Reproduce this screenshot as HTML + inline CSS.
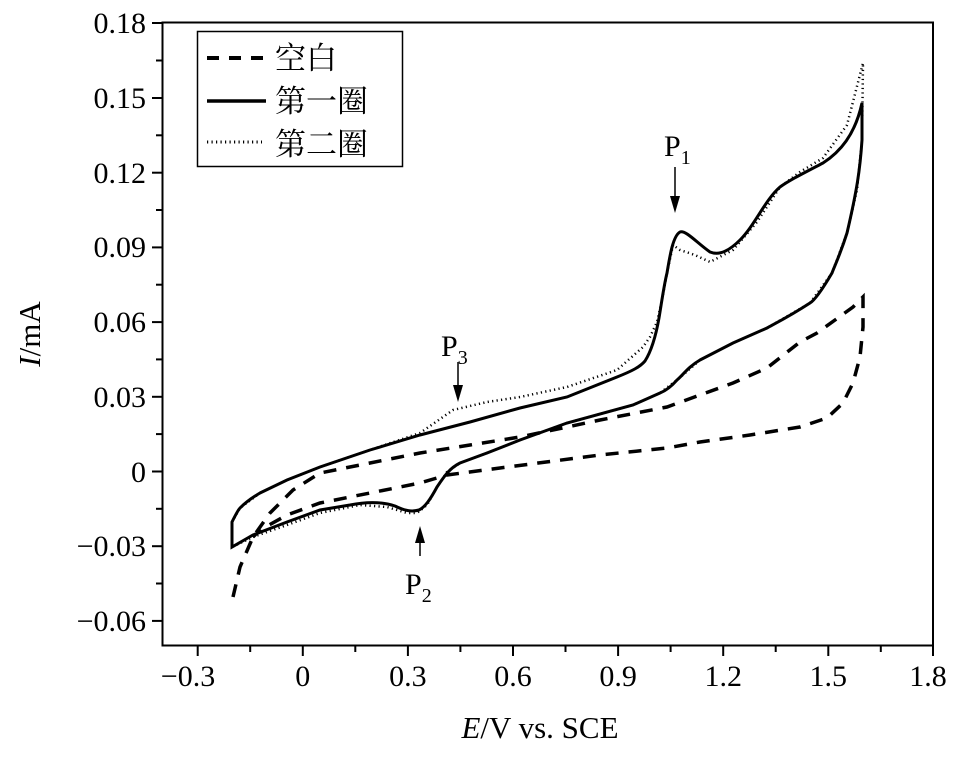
<!DOCTYPE html>
<html><head><meta charset="utf-8"><style>
body{margin:0;background:#fff;}
text{font-family:"Liberation Serif","Noto Serif CJK SC",serif;fill:#000;}
</style></head><body>
<svg width="961" height="754" viewBox="0 0 961 754" xmlns="http://www.w3.org/2000/svg">
<rect x="162.5" y="22.5" width="770.5" height="623" fill="none" stroke="#000" stroke-width="2"/>
<g stroke="#000" stroke-width="2">
<line x1="152" y1="23" x2="162" y2="23"/><line x1="152" y1="98" x2="162" y2="98"/><line x1="152" y1="172.7" x2="162" y2="172.7"/><line x1="152" y1="247.4" x2="162" y2="247.4"/><line x1="152" y1="322.1" x2="162" y2="322.1"/><line x1="152" y1="396.8" x2="162" y2="396.8"/><line x1="152" y1="471.5" x2="162" y2="471.5"/><line x1="152" y1="546.2" x2="162" y2="546.2"/><line x1="152" y1="620.9" x2="162" y2="620.9"/>
<line x1="156" y1="60.5" x2="162" y2="60.5"/><line x1="156" y1="135.3" x2="162" y2="135.3"/><line x1="156" y1="210" x2="162" y2="210"/><line x1="156" y1="284.7" x2="162" y2="284.7"/><line x1="156" y1="359.4" x2="162" y2="359.4"/><line x1="156" y1="434.1" x2="162" y2="434.1"/><line x1="156" y1="508.8" x2="162" y2="508.8"/><line x1="156" y1="583.5" x2="162" y2="583.5"/>
<line x1="197.7" y1="646" x2="197.7" y2="656"/><line x1="302.8" y1="646" x2="302.8" y2="656"/><line x1="407.9" y1="646" x2="407.9" y2="656"/><line x1="513" y1="646" x2="513" y2="656"/><line x1="618.1" y1="646" x2="618.1" y2="656"/><line x1="723.2" y1="646" x2="723.2" y2="656"/><line x1="828.3" y1="646" x2="828.3" y2="656"/><line x1="933" y1="646" x2="933" y2="656"/>
<line x1="250.2" y1="646" x2="250.2" y2="652"/><line x1="355.3" y1="646" x2="355.3" y2="652"/><line x1="460.4" y1="646" x2="460.4" y2="652"/><line x1="565.5" y1="646" x2="565.5" y2="652"/><line x1="670.6" y1="646" x2="670.6" y2="652"/><line x1="775.7" y1="646" x2="775.7" y2="652"/><line x1="880.8" y1="646" x2="880.8" y2="652"/>
</g>
<g font-size="30" text-anchor="end">
<text x="146" y="33">0.18</text><text x="146" y="108">0.15</text><text x="146" y="183">0.12</text><text x="146" y="257">0.09</text><text x="146" y="332">0.06</text><text x="146" y="407">0.03</text><text x="146" y="482">0</text><text x="146" y="556">−0.03</text><text x="146" y="631">−0.06</text>
</g>
<g font-size="30" text-anchor="middle">
<text x="188" y="686">−0.3</text><text x="302.8" y="686">0</text><text x="407.9" y="686">0.3</text><text x="513" y="686">0.6</text><text x="618.1" y="686">0.9</text><text x="723.2" y="686">1.2</text><text x="828.3" y="686">1.5</text><text x="928" y="686">1.8</text>
</g>
<text x="540" y="738" font-size="31" text-anchor="middle"><tspan font-style="italic">E</tspan>/V vs. SCE</text>
<text transform="translate(40,334) rotate(-90)" font-size="31" text-anchor="middle"><tspan font-style="italic">I</tspan>/mA</text>
<rect x="197.5" y="31.5" width="205" height="135" fill="#fff" stroke="#000" stroke-width="1.5"/>
<line x1="207" y1="58" x2="266" y2="58" stroke="#000" stroke-width="4" stroke-dasharray="12,10"/>
<line x1="207" y1="101" x2="266" y2="101" stroke="#000" stroke-width="3.5"/>
<line x1="207" y1="142" x2="262" y2="142" stroke="#000" stroke-width="3" stroke-dasharray="1.2,3.3"/>
<g font-size="31" font-family="'Noto Serif CJK SC','Noto Sans CJK SC',serif">
<text x="275" y="69">空白</text><text x="275" y="112">第一圈</text><text x="275" y="155">第二圈</text>
</g>
<path d="M233,597 L240,567 L253,537 L270,513 L293,490 L320,473 L370,463 L420,453 L470,445 L520,437 L600,420 L667,407 L700,395 L733,383 L767,368 L800,342 L817,333 L853,307 L863,297 L863,327 L860,357 L853,383 L843,403 L827,418 L800,427 L750,435 L700,442 L667,448 L600,455 L500,468 L447,475 L420,483 L370,493 L320,503 L287,515 L260,530 L253,537" fill="none" stroke="#000" stroke-width="3.5" stroke-dasharray="13,10"/>
<path d="M232,522 L240,508 L260,493 L287,480 L320,467 L370,450 L420,433 L453,410 L487,402 L520,397 L567,387 L617,370 L643,347 L650,337 L657,322 L662,300 L667,273 L673,245 L680,250 L695,255 L710,262 L733,250 L757,222 L780,187 L800,172 L823,158 L847,125 L863,63 L862,140 L857,190 L847,233 L832,273 L810,303 L767,328 L733,343 L700,360 L677,380 L660,393 L633,405 L567,423 L520,440 L487,453 L460,463 L447,472 L437,487 L427,505 L417,513 L407,513 L387,507 L360,505 L320,513 L287,525 L253,537 L232,547" fill="none" stroke="#000" stroke-width="2.5" stroke-dasharray="1.2,3.3"/>
<path d="M232,522 C236,514 238,510 240,508 C248,500 255,496 260,493 L287,480 L320,467 L370,450 L420,435 L470,422 L520,408 L567,397 L617,377 C632,371 640,367 645,361 C652,350 656,335 659,318 C662,300 664,285 667,273 C670,255 673,236 680,232 C686,230 697,243 710,252 C720,256 730,250 740,240 C755,225 765,200 780,187 C790,180 800,175 823,163 C840,152 855,135 862,103 L862,140 C860,170 857,190 847,233 C840,255 835,265 832,273 C822,290 815,300 810,303 C790,316 778,322 767,328 L733,343 L700,360 C688,367 683,375 677,380 C670,388 665,391 660,393 L633,405 L567,423 L520,440 L487,453 L460,463 C450,468 445,475 437,487 C430,500 425,507 419,510 C412,512 405,511 395,506 C380,501 365,502 350,505 L320,510 L287,522 L253,535 L232,547 Z" fill="none" stroke="#000" stroke-width="3"/>
<g font-size="30">
<text x="664" y="156">P<tspan font-size="20" dy="8">1</tspan></text>
<text x="441" y="356">P<tspan font-size="20" dy="8">3</tspan></text>
<text x="405" y="594">P<tspan font-size="20" dy="8">2</tspan></text>
</g>
<g stroke="#000" stroke-width="1.5">
<line x1="675" y1="167" x2="675" y2="200"/>
<line x1="458" y1="362" x2="458" y2="388"/>
<line x1="420" y1="556" x2="420" y2="540"/>
</g>
<g fill="#000">
<polygon points="670,196 680,196 675,213"/>
<polygon points="453,385 463,385 458,402"/>
<polygon points="415,543 425,543 420,526"/>
</g>
</svg>
</body></html>
